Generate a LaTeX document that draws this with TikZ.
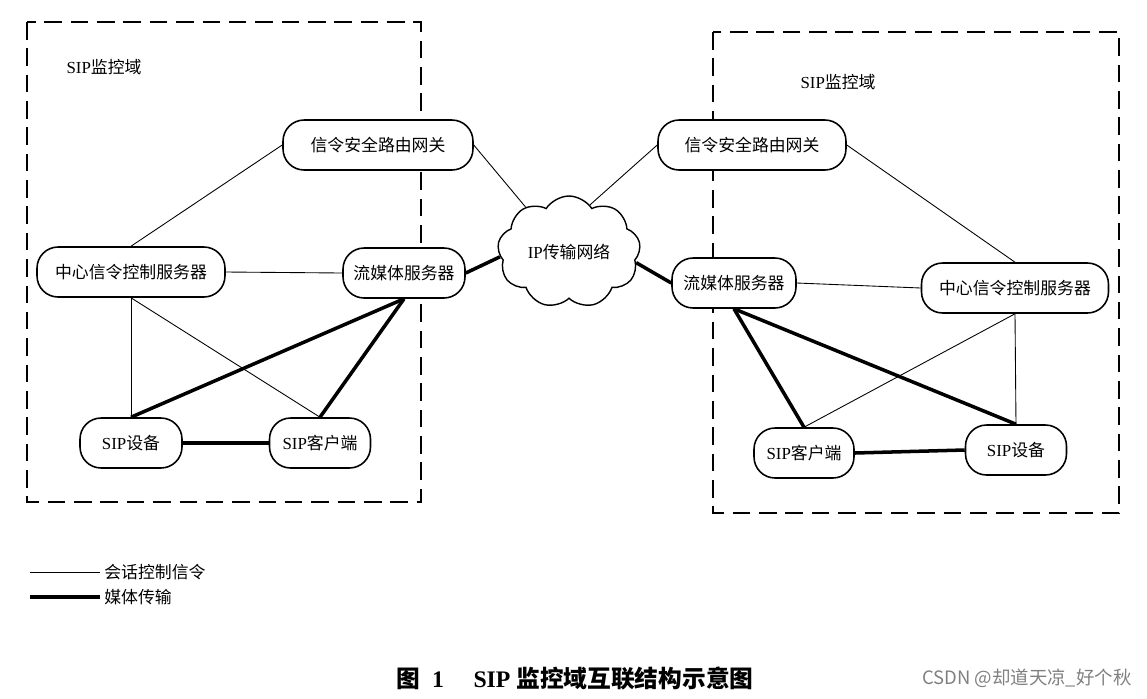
\documentclass[tikz,border=0pt]{standalone}
\usepackage{fontspec}
\setmainfont{Liberation Serif}
\newfontfamily\zh{Noto Sans CJK SC}
\usetikzlibrary{shapes.symbols}
\tikzset{
  box/.style={draw, line width=0.9pt, rounded corners=12pt, minimum height=1.0cm, inner sep=2pt,
    font=\fontsize{9.6}{11}\selectfont},
  thinl/.style={line width=0.5pt},
  thickl/.style={line width=2pt},
  domainbox/.style={draw, line width=1.1pt, dash pattern=on 10pt off 5pt},
  lbl/.style={font=\fontsize{9.6}{11}\selectfont, inner sep=0pt},
}
\begin{document}
\begin{tikzpicture}[x=0.02cm,y=-0.02cm]
\useasboundingbox (0,0) rectangle (1147,698);
% domains
\draw[domainbox] (27,22) rectangle (421,502);
\draw[domainbox] (713,32) rectangle (1119,513);
\node[lbl] (ldom) at (104,67) {SIP{\zh 监控域}};
\node[lbl] (rdom) at (838,82) {SIP{\zh 监控域}};
% left nodes
\node[box, fill=white, minimum width=3.8cm] (lgw) at (378,145) {\zh 信令安全路由网关};
\node[box, minimum width=3.76cm] (lcc) at (131,272) {\zh 中心信令控制服务器};
\node[box, fill=white, minimum width=2.44cm] (lsm) at (404,273) {\zh 流媒体服务器};
\node[box, minimum width=2.04cm] (ldev) at (131,443) {SIP{\zh 设备}};
\node[box, minimum width=2.02cm] (lcli) at (320,443) {SIP{\zh 客户端}};
% cloud
\node[cloud, draw, line width=0.8pt, cloud puffs=9, cloud puff arc=115, aspect=1.3,
  minimum width=2.86cm, minimum height=2.24cm, inner sep=0pt,
  font=\fontsize{9.6}{11}\selectfont] (cl) at (569,252) {IP{\zh 传输网络}};
% right nodes
\node[box, fill=white, minimum width=3.76cm] (rgw) at (752,145) {\zh 信令安全路由网关};
\node[box, fill=white, minimum width=2.48cm] (rsm) at (734,283) {\zh 流媒体服务器};
\node[box, minimum width=3.74cm] (rcc) at (1015,288) {\zh 中心信令控制服务器};
\node[box, minimum width=2.0cm] (rcli) at (804,453) {SIP{\zh 客户端}};
\node[box, minimum width=2.02cm] (rdev) at (1016,450) {SIP{\zh 设备}};
% left thin
\draw[thinl] (lgw.west) -- (lcc.north);
\draw[thinl] (lcc.east) -- (lsm.west);
\draw[thinl] (lcc.south) -- (ldev.north);
\draw[thinl] (lcc.south) -- (lcli.north);
\draw[thinl] (lgw.east) -- (cl.134);
% left thick
\draw[thickl] (lsm.south) -- (ldev.north);
\draw[thickl] (lsm.south) -- (lcli.north);
\draw[thickl] (ldev.east) -- (lcli.west);
\draw[thickl] (lsm.east) -- (cl.184);
% right thin
\draw[thinl] (cl.66) -- (rgw.west);
\draw[thinl] (rgw.east) -- (rcc.north);
\draw[thinl] (rsm.east) -- (rcc.west);
\draw[thinl] (rcc.south) -- (rdev.north);
\draw[thinl] (rcc.south) -- (rcli.north);
% right thick
\draw[thickl] (cl.351) -- (rsm.west);
\draw[thickl] (rsm.south) -- (rcli.north);
\draw[thickl] (rsm.south) -- (rdev.north);
\draw[thickl] (rcli.east) -- (rdev.west);
% legend
\coordinate (la1) at (30,572);
\coordinate (la2) at (100,572);
\coordinate (lb1) at (30,597);
\coordinate (lb2) at (100,597);
\draw[thinl] (la1) -- (la2);
\draw[thickl] (lb1) -- (lb2);
\node[lbl, anchor=west] (leg1) at (104,572) {\zh 会话控制信令};
\node[lbl, anchor=west] (leg2) at (104,597) {\zh 媒体传输};
% caption
\node[font=\fontsize{13.5}{15}\selectfont\bfseries, inner sep=0pt] (cap) at (575,678) {{\zh 图}\ \ 1\quad\ SIP\ {\zh 监控域互联结构示意图}};
\node[font=\fontsize{10.5}{12}\selectfont, text=gray, inner sep=0pt, anchor=east] (wm) at (1132,678) {\zh CSDN @却道天凉\_好个秋};
\end{tikzpicture}
\end{document}
